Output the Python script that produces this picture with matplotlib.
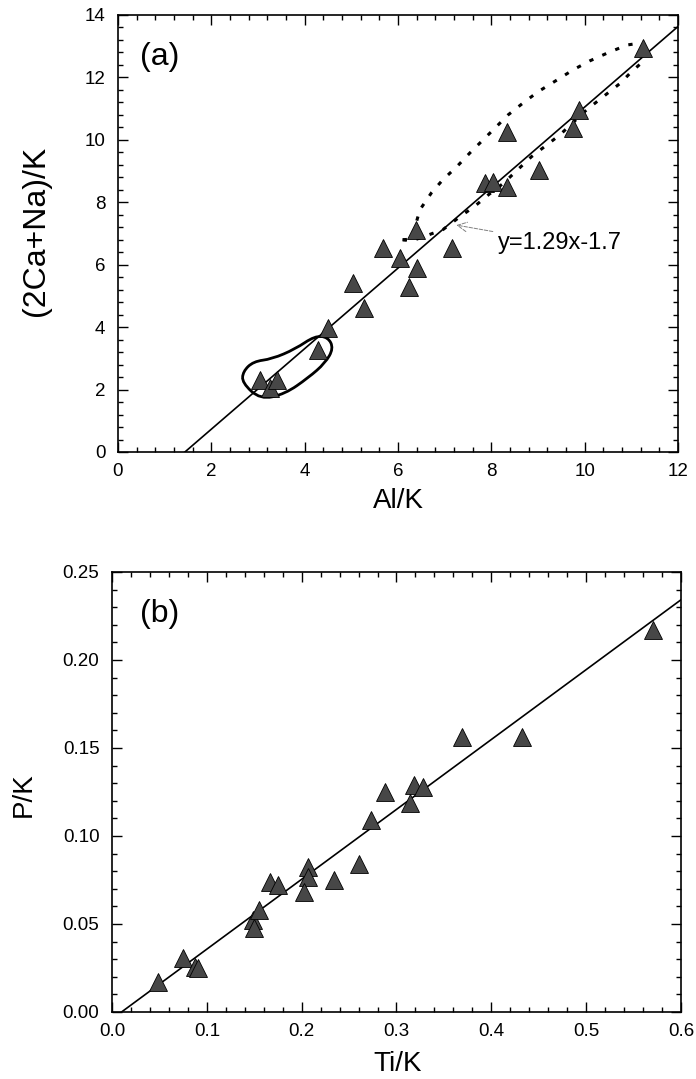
import numpy as np
import matplotlib
matplotlib.use('Agg')
import matplotlib.pyplot as plt
from matplotlib.path import Path
from matplotlib.patches import PathPatch
from matplotlib.ticker import MultipleLocator, FormatStrFormatter

plt.rcParams['font.family'] = ['Liberation Sans', 'DejaVu Sans']

# ---- panel (a) data: Al/K vs (2Ca+Na)/K
al_k = [3.04, 3.26, 3.41, 4.29, 4.50, 5.04, 5.27, 5.68, 6.04, 6.41, 6.24, 6.39,
        7.16, 7.86, 8.04, 8.34, 8.34, 9.02, 9.75, 9.88, 11.25]
ca_na_k = [2.31, 2.05, 2.31, 3.27, 3.97, 5.42, 4.61, 6.54, 6.22, 5.90, 5.29, 7.11,
           6.54, 8.62, 8.65, 8.49, 10.25, 9.04, 10.38, 10.96, 12.94]
fit_a = (1.29, -1.85)   # slope, intercept as drawn
fit_a_label = 'y=1.29x-1.7'

# two dotted trends
upper_x = [6.10, 6.29, 6.47, 6.72, 6.96, 7.26, 7.54, 7.79, 8.08, 8.36, 8.68, 9.00,
           9.41, 9.75, 10.11, 10.50, 10.91, 11.20]
upper_y = [6.80, 6.82, 7.76, 8.31, 8.72, 9.14, 9.58, 9.95, 10.38, 10.80, 11.18, 11.54,
           11.92, 12.24, 12.53, 12.79, 13.04, 13.10]
lower_x = [6.10, 6.29, 6.96, 7.33, 7.65, 7.93, 8.26, 8.86, 9.47, 10.04, 10.76, 11.01, 11.29]
lower_y = [6.80, 6.76, 7.12, 7.54, 7.88, 8.23, 8.61, 9.46, 10.16, 10.96, 11.81, 12.19, 12.56]

# loop round the low samples
loop_x = [2.66, 3.05, 3.58, 4.08, 4.44, 4.62, 4.50, 4.22, 3.80, 3.30, 2.90, 2.68]
loop_y = [2.22, 1.68, 1.86, 2.38, 2.85, 3.32, 3.68, 3.72, 3.30, 2.98, 2.90, 2.58]

# ---- panel (b) data: Ti/K vs P/K
ti_k = [0.048, 0.0745, 0.0875, 0.091, 0.149, 0.155, 0.150, 0.1667, 0.1754, 0.207,
        0.207, 0.2025, 0.234, 0.2608, 0.2728, 0.288, 0.318, 0.328, 0.314, 0.369,
        0.432, 0.571]
p_k = [0.0172, 0.0305, 0.0257, 0.0250, 0.0523, 0.058, 0.0475, 0.074, 0.0722, 0.0826,
       0.0769, 0.0684, 0.075, 0.0841, 0.109, 0.1252, 0.129, 0.128, 0.1186, 0.1564,
       0.1564, 0.217]
fit_b = (0.397, -0.004)

tri_face = '#474747'
W, H = 696, 1079


def style_axes(ax, xmaj, xmin, ymaj, ymin):
    ax.xaxis.set_major_locator(MultipleLocator(xmaj))
    ax.xaxis.set_minor_locator(MultipleLocator(xmin))
    ax.yaxis.set_major_locator(MultipleLocator(ymaj))
    ax.yaxis.set_minor_locator(MultipleLocator(ymin))
    ax.tick_params(which='both', direction='in', top=True, right=True, width=1)
    ax.tick_params(which='major', length=7, labelsize=13.5, pad=8)
    ax.tick_params(which='minor', length=3.5)
    ax.tick_params(axis='y', pad=9)
    for s in ax.spines.values():
        s.set_linewidth(1.2)


def ftext(px, py, s, **kw):
    # place text at a pixel position of the figure
    fig.text(px / W, 1 - py / H, s, **kw)


fig = plt.figure(figsize=(6.96, 10.79), dpi=100)

# ---------------- (a)
ax1 = fig.add_axes([0.1695, 0.5811, 0.8046, 0.405])
xs = np.array([0, 12])
ax1.plot(xs, fit_a[0] * xs + fit_a[1], color='black', lw=1.2)
ax1.plot(upper_x, upper_y, color='black', lw=2.2, ls=(0, (1.4, 3.2)))
ax1.plot(lower_x, lower_y, color='black', lw=2.2, ls=(0, (1.4, 3.2)))

# smooth closed loop (quadratic b-spline through midpoints)
pts = np.column_stack([loop_x, loop_y])
n = len(pts)
mids = (pts + np.roll(pts, -1, axis=0)) / 2
verts = [mids[-1]]
codes = [Path.MOVETO]
for i in range(n):
    verts += [pts[i], mids[i]]
    codes += [Path.CURVE3, Path.CURVE3]
ax1.add_patch(PathPatch(Path(verts, codes), fill=False, lw=2, ec='black'))

ax1.plot(al_k, ca_na_k, ls='none', marker='^', ms=13, mfc=tri_face, mec='black', mew=0.6)

ax1.annotate(fit_a_label, xy=(7.25, 7.27), xytext=(8.15, 6.68), fontsize=17, va='center',
             arrowprops=dict(arrowstyle='->', color='gray', lw=0.7, ls='--',
                             shrinkA=2, shrinkB=0))
ax1.set_xlim(0, 12)
ax1.set_ylim(0, 14)
style_axes(ax1, 2, 0.4, 2, 0.4)

# ---------------- (b)
ax2 = fig.add_axes([0.1609, 0.0621, 0.8175, 0.4078])
xb = np.array([0, 0.6])
ax2.plot(xb, fit_b[0] * xb + fit_b[1], color='black', lw=1.2)
ax2.plot(ti_k, p_k, ls='none', marker='^', ms=13, mfc=tri_face, mec='black', mew=0.6)
ax2.set_xlim(0, 0.6)
ax2.set_ylim(0, 0.25)
style_axes(ax2, 0.1, 0.02, 0.05, 0.01)
ax2.xaxis.set_major_formatter(FormatStrFormatter('%.1f'))
ax2.yaxis.set_major_formatter(FormatStrFormatter('%.2f'))

# labels
ftext(140, 65, '(a)', fontsize=23, va='baseline')
ftext(140, 622, '(b)', fontsize=23, va='baseline')
ftext(398, 508, 'Al/K', fontsize=20, ha='center', va='baseline')
ftext(398, 1071, 'Ti/K', fontsize=20, ha='center', va='baseline')
ftext(36, 231, '(2Ca+Na)/K', fontsize=23, rotation=90, ha='center', va='center')
ftext(24, 795, 'P/K', fontsize=20, rotation=90, ha='center', va='center')

fig.savefig('out.png', dpi=100)
